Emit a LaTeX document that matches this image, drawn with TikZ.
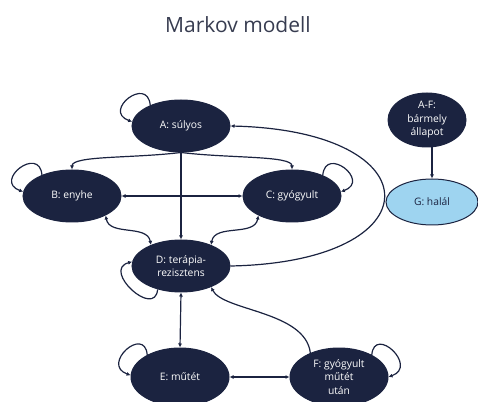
\documentclass[tikz,border=0pt]{standalone}
\usepackage{fontspec}
\setmainfont{Open Sans}
\usetikzlibrary{shapes.geometric,arrows.meta}
\definecolor{sotet}{RGB}{27,35,64}
\definecolor{vilagos}{RGB}{158,212,240}
\definecolor{cimszin}{RGB}{55,60,80}
\begin{document}
\begin{tikzpicture}[x=1pt,y=1pt,
	allapot/.style={ellipse, draw=sotet, fill=sotet, text=white, line width=1pt, minimum width=98pt, minimum height=52pt, inner sep=0pt, align=center, font=\fontsize{10.3}{13.5}\selectfont},
	nyil/.style={draw=sotet, line width=1.2pt, -{Latex[length=4pt,width=4pt]}},
	ketnyil/.style={draw=sotet, line width=1.2pt, {Latex[length=4pt,width=4pt]}-{Latex[length=4pt,width=4pt]}}]
	\useasboundingbox (0,0) rectangle (478,401);
	\node[font=\fontsize{21}{24}\selectfont, text=cimszin] (cim) at (238,376) {Markov modell};
	\node[allapot] (A) at (181,275) {A: súlyos};
	\node[allapot] (B) at (72,205) {B: enyhe};
	\node[allapot] (C) at (292,205) {C: gyógyult};
	\node[allapot] (D) at (181,135) {D: terápia-\\rezisztens};
	\node[allapot, minimum height=58pt] (E) at (180,24) {E: műtét};
	\node[allapot, minimum height=58pt] (F) at (339,24) {F: gyógyult\\műtét\\után};
	\node[allapot, minimum width=78pt, minimum height=54pt] (AF) at (427,281) {A-F:\\bármely\\állapot};
	\node[allapot, fill=vilagos, text=sotet, minimum width=92pt, minimum height=46pt] (G) at (432,199) {G: halál};
	\draw[nyil] (A.146) .. controls +(95:30) and +(160:32) .. (A.175);
	\draw[nyil] (B.145) .. controls +(95:30) and +(160:32) .. (B.175);
	\draw[nyil] (C.34) .. controls +(85:30) and +(20:32) .. (C.5);
	\draw[nyil] (D.-135) .. controls +(-95:30) and +(-165:32) .. (D.175);
	\draw[nyil] (E.146) .. controls +(95:30) and +(160:32) .. (E.178);
	\draw[nyil] (F.34) .. controls +(85:30) and +(20:32) .. (F.0);
	\draw[nyil] (A.south) .. controls +(-50,-6) and +(0,14) .. (B.north);
	\draw[nyil] (A.south) .. controls +(50,-6) and +(0,14) .. (C.north);
	\draw[nyil] (A.south) -- (D.north);
	\draw[ketnyil] (B.east) -- (C.west);
	\draw[ketnyil] (B.-30) to[out=-80,in=100] (D.145);
	\draw[ketnyil] (C.-150) to[out=-100,in=80] (D.35);
	\draw[nyil] (D.east) .. controls +(205,4) and +(205,-5) .. (A.east);
	\draw[ketnyil] (D.south) -- (E.north);
	\draw[ketnyil] (E.east) -- (F.west);
	\draw[nyil] (F.140) .. controls +(-5,42) and +(12,-24) .. (D.-35);
	\draw[nyil] (AF.south -| G.north) -- (G.north);
\end{tikzpicture}
\end{document}
